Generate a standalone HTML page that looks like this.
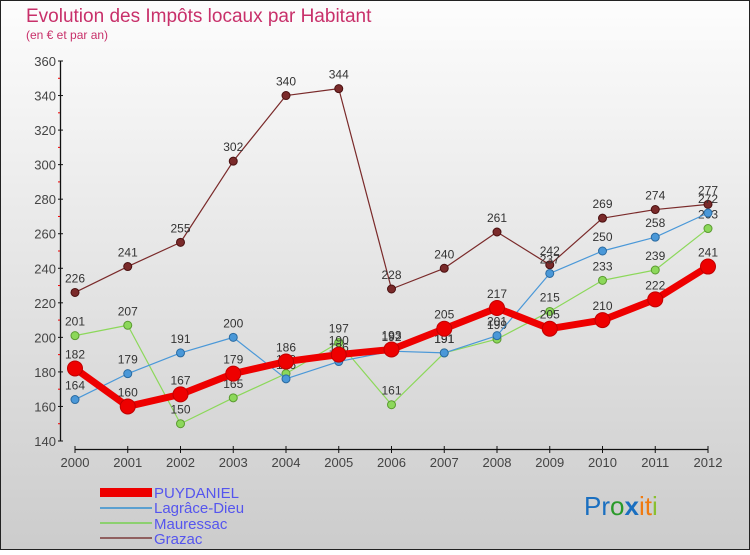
<!DOCTYPE html>
<html><head><meta charset="utf-8"><style>
html,body{margin:0;padding:0}
body{width:750px;height:550px;overflow:hidden;font-family:"Liberation Sans",sans-serif}
</style></head><body>
<svg width="750" height="550" xmlns="http://www.w3.org/2000/svg">
<defs><linearGradient id="bg" x1="0" y1="0" x2="0" y2="1"><stop offset="0" stop-color="#fdfdfd"/><stop offset="1" stop-color="#cccccc"/></linearGradient></defs>
<rect x="0.5" y="0.5" width="749" height="549" fill="url(#bg)" stroke="#222"/>
<text x="26" y="22" font-size="19" fill="#c8306a">Evolution des Impôts locaux par Habitant</text>
<text x="26" y="39" font-size="12" fill="#c8306a">(en € et par an)</text>
<g id="axes"></g><g id="series"></g>
<g font-size="15" fill="#5555ee">
<rect x="100" y="488" width="52" height="9" fill="#e00"/>
<text x="154" y="498">PUYDANIEL</text>
<line x1="100" y1="508" x2="152" y2="508" stroke="#5ba0d0" stroke-width="2"/>
<text x="154" y="513">Lagrâce-Dieu</text>
<line x1="100" y1="523" x2="152" y2="523" stroke="#8cd070" stroke-width="2"/>
<text x="154" y="529">Mauressac</text>
<line x1="100" y1="538" x2="152" y2="538" stroke="#906060" stroke-width="2"/>
<text x="154" y="544">Grazac</text>
</g>
<g font-size="26">
<text x="584" y="515"><tspan fill="#1a6fc0">Pr</tspan><tspan fill="#2a9a2a">o</tspan><tspan fill="#1a6fc0" font-weight="bold">x</tspan><tspan fill="#f07a10">it</tspan><tspan fill="#8ac030">i</tspan></text>
</g>
</svg>
<script>
const years=[2000,2001,2002,2003,2004,2005,2006,2007,2008,2009,2010,2011,2012];
const puydaniel=[182,160,167,179,186,190,193,205,217,205,210,222,241];
const lagrace=[164,179,191,200,176,186,192,191,201,237,250,258,272];
const mauressac=[201,207,150,165,179,197,161,191,199,215,233,239,263];
const grazac=[226,241,255,302,340,344,228,240,261,242,269,274,277];
const yTicks=[140,160,180,200,220,240,260,280,300,320,340,360];
const NS="http://www.w3.org/2000/svg";
const X=i=>75+i*(708-75)/(years.length-1);
const Y=v=>441-(v-140)*380/220;
function mk(tag,attrs,parent){const e=document.createElementNS(NS,tag);for(const k in attrs)e.setAttribute(k,attrs[k]);parent.appendChild(e);return e;}
const ax=document.getElementById('axes');
let l=mk('line',{x1:60.5,y1:Y(360),x2:60.5,y2:Y(140),stroke:'#111','stroke-width':1.3},ax);


l=mk('line',{x1:X(0),y1:449.5,x2:X(12),y2:449.5,stroke:'#111','stroke-width':1.3},ax);


yTicks.forEach((v,i)=>{
  mk('line',{x1:58,y1:Y(v),x2:63,y2:Y(v),stroke:'#111'},ax);
  if(i<yTicks.length-1) mk('line',{x1:58,y1:Y(v+10),x2:60,y2:Y(v+10),stroke:'#e00'},ax);
  const t=mk('text',{x:56,y:Y(v)+5,'text-anchor':'end','font-size':13,fill:'#444'},ax);t.textContent=v;
  
  
});
years.forEach((y,i)=>{
  mk('line',{x1:X(i),y1:446,x2:X(i),y2:453,stroke:'#111'},ax);
  const t=mk('text',{x:X(i),y:467,'text-anchor':'middle','font-size':13,fill:'#444'},ax);t.textContent=y;
  
  
});
const sg=document.getElementById('series');
function draw(name,data,color,w,r,dark){
  const g=mk('g',{},sg);
  
  
  const p=mk('polyline',{points:data.map((v,i)=>X(i)+','+Y(v)).join(' '),fill:'none',stroke:color,'stroke-width':w,'stroke-linejoin':'round'},g);
  
  
  data.forEach((v,i)=>{
    const c=mk('circle',{cx:X(i),cy:Y(v),r:r,fill:color,stroke:dark,'stroke-width':1},g);
    
    
    const t=mk('text',{x:X(i),y:Y(v)-10,'text-anchor':'middle','font-size':12,fill:'#333'},g);t.textContent=v;
    
    
  });
}
draw('grazac',grazac,'#7a2a2a',1.2,4,'#4a1010');
draw('mauressac',mauressac,'#8cd85a',1.2,4,'#5a9a30');
draw('lagrace',lagrace,'#4a98d8',1.2,4,'#2a6aa0');
draw('puydaniel',puydaniel,'#ee0000',7,7.5,'#c00000');
</script>
</body></html>
